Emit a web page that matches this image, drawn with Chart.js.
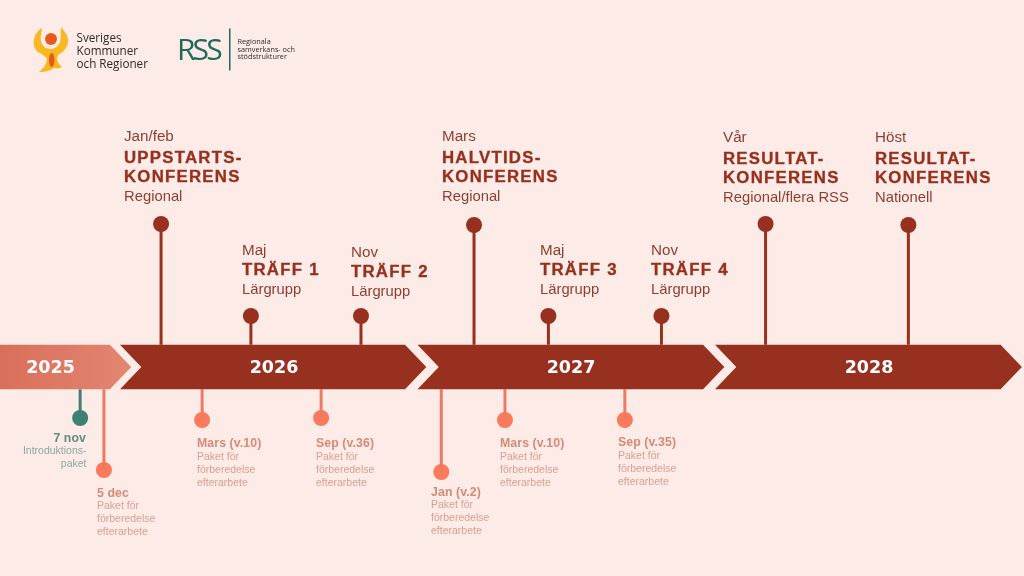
<!DOCTYPE html>
<html><head><meta charset="utf-8">
<script src="https://cdn.jsdelivr.net/npm/chart.js@4"></script>
<style>html,body{margin:0;padding:0;background:#fdebe7;overflow:hidden}#w{width:1024px;height:576px;position:relative}</style>
</head><body><div id="w"><canvas id="c" width="1024" height="576"></canvas></div>
<script>
// Timeline data: positions are decimal years; levels are heights above/below the band centre
const yearLabels = ['2025','2026','2027','2028'];
const yearStarts = [2025.55,2026,2027,2028];
const yearEnds   = [2025.966,2026.958,2027.96,2028.96];

const upperDates = ['Jan/feb','Maj','Nov','Mars','Maj','Nov','Vår','Höst'];
const upperTitles = [['UPPSTARTS-','KONFERENS'],['TRÄFF 1'],['TRÄFF 2'],['HALVTIDS-','KONFERENS'],['TRÄFF 3'],['TRÄFF 4'],['RESULTAT-','KONFERENS'],['RESULTAT-','KONFERENS']];
const upperSubs = ['Regional','Lärgrupp','Lärgrupp','Regional','Lärgrupp','Lärgrupp','Regional/flera RSS','Nationell'];
const upperTimes = [2026.138,2026.44,2026.81,2027.19,2027.44,2027.82,2028.17,2028.65];
const upperLevels = [143,51,51,142,51,51,143,142];

const coralDates = ['5 dec','Mars (v.10)','Sep (v.36)','Jan (v.2)','Mars (v.10)','Sep (v.35)'];
const coralTimes = [2025.946,2026.276,2026.676,2027.08,2027.294,2027.697];
const coralLevels = [-103,-53,-51,-105,-53,-53];
const coralText = ['Paket för','förberedelse','efterarbete'];

const greenDate = '7 nov';
const greenTimes = [2025.866];
const greenLevels = [-51];
const greenText = ['Introduktions-','paket'];

// Layout (pixels), kept apart from the data
const LAYOUT = {
  bandHalf:22.3, arrow:0.0715,
  upperX:[124,242,351,442,540,651,723,875],
  upperY:[141,255,257,141,255,255,141.5,141.5],
  coralX:[97,197,316,431,500,618], coralY:[496.5,447,447,495.5,447,446],
  greenX:87, greenY:441.5, yearX:[50.5,274,571,869], yearY:373
};
const C = {bg:'#fdebe7',dark:'#97301f',darkTxt:'#8e3e30',coral:'#fb7a5c',coralStem:'#ec7b62',coralHead:'#d58a7a',coralTxt:'#d99f92',green:'#3e8172',greenHead:'#5f8d80',greenTxt:'#8aa9a0'};

const edge = LAYOUT.bandHalf;
function stems(times, levels, sign){
  const out=[]; times.forEach((t,i)=>{out.push({x:t,y:sign*edge},{x:t,y:levels[i]},{x:t,y:NaN});}); return out;
}
function dots(times, levels){return times.map((t,i)=>({x:t,y:levels[i]}));}
function chevron(i){
  const s=yearStarts[i],e=yearEnds[i],a=LAYOUT.arrow,h=edge;
  const pts=[{x:s,y:h},{x:e,y:h},{x:e+a,y:0},{x:e,y:-h},{x:s,y:-h}];
  if(i>0) pts.push({x:s+a,y:0});
  pts.push({x:s,y:h});
  return pts;
}
function bandSet(i){
  return {type:'scatter',data:chevron(i),showLine:true,tension:0,pointRadius:0,borderWidth:0,borderColor:'transparent',
    fill:'shape',
    backgroundColor:i===0?(ctx)=>{
      const a=ctx.chart.chartArea; if(!a) return '#dd7865';
      const g=ctx.chart.ctx.createLinearGradient(a.left,0,ctx.chart.scales.x.getPixelForValue(yearEnds[0]+LAYOUT.arrow),0);
      g.addColorStop(0,'#d96f5a');g.addColorStop(1,'#e28672');return g;
    }:C.dark};
}
function stemSet(data,color,w){return {type:'scatter',data,showLine:true,spanGaps:false,pointRadius:0,borderColor:color,borderWidth:w,fill:false};}
function dotSet(data,color,r){return {type:'scatter',data,showLine:false,pointRadius:r,pointBackgroundColor:color,pointBorderWidth:0,pointHoverRadius:r};}

const textPlugin={id:'txt',afterDatasetsDraw(chart){
  const g=chart.ctx; g.save(); g.textBaseline='alphabetic';
  function t(s,x,y,font,col,ls,al,sw){g.font=font;g.fillStyle=col;g.letterSpacing=ls||'0px';g.textAlign=al||'left';g.fillText(s,x,y);
    if(sw){g.strokeStyle=col;g.lineWidth=sw;g.lineJoin='round';g.strokeText(s,x,y);}}
  const sans='"Liberation Sans",Arial,sans-serif';
  // years
  yearLabels.forEach((s,i)=>t(s,LAYOUT.yearX[i],LAYOUT.yearY,'bold 17.5px "DejaVu Sans"','#fff','0px','center'));
  // upper labels
  upperDates.forEach((d,i)=>{
    const x=LAYOUT.upperX[i]; let y=LAYOUT.upperY[i];
    t(d,x,y,'15.2px '+sans,C.darkTxt);
    y+=upperTitles[i].length>1?22:20;
    upperTitles[i].forEach((s,k)=>{t(s,x,y,'bold 16.8px '+sans,C.dark,'1.25px','left',0.35);y+=19;});
    t(upperSubs[i],x,y,'14.8px '+sans,C.darkTxt);
  });
  // coral labels
  coralDates.forEach((d,i)=>{
    const x=LAYOUT.coralX[i],y=LAYOUT.coralY[i];
    t(d,x,y,'bold 12.3px '+sans,C.coralHead,'0.1px');
    coralText.forEach((s,k)=>t(s,x,y+12.8+13*k,'10.5px '+sans,C.coralTxt,'0px'));
  });
  // green labels
  t(greenDate,LAYOUT.greenX-1,LAYOUT.greenY,'bold 12.3px '+sans,C.greenHead,'0.1px','right');
  greenText.forEach((s,k)=>t(s,LAYOUT.greenX-0.5,LAYOUT.greenY+12.8+13*k,'10.5px '+sans,C.greenTxt,'0px','right'));

  // SKR logo
  g.letterSpacing='0px';
  g.fillStyle='#f8b81f';
  g.beginPath();g.moveTo(42,28);g.bezierCurveTo(33,33,31,46,38,52);g.bezierCurveTo(43,55,47,57,47,60);
  g.bezierCurveTo(46,65,43,69,39,72);g.bezierCurveTo(47,72,51,70,54,68);g.bezierCurveTo(58,69,60,68,62,67);
  g.bezierCurveTo(57,63,56,58,58,55);g.bezierCurveTo(64,52,69,46,68,39);g.bezierCurveTo(67,33,63,31,62,27);
  g.bezierCurveTo(59,31,62,36,60,42);g.bezierCurveTo(58,47,54,49,51,49);g.bezierCurveTo(46,49,42,46,41,41);g.bezierCurveTo(40,36,42,32,42,28);g.closePath();g.fill();
  g.fillStyle='#e8591f';g.beginPath();g.arc(51,39,6,0,Math.PI*2);g.fill();
  g.beginPath();g.ellipse(51.7,60,2.8,7,0,0,Math.PI*2);g.fill();
  const lf='"Open Sans"';
  ['Sveriges','Kommuner','och Regioner'].forEach((s,k)=>t(s,76.5,42.3+k*12.7,'11.7px '+lf,'#2e2a28','0px'));
  // RSS logo
  t('RSS',177,60,'30px '+lf,'#1f6a5c','-2.9px');
  g.fillStyle='#1f6a5c';g.fillRect(229,28.5,1.5,42);
  ['Regionala','samverkans- och','stödstrukturer'].forEach((s,k)=>t(s,237.5,44+k*7.65,'7.3px '+lf,'#2e2a28','0px'));
  g.restore();
}};

const xMin=2025.5966,xMax=2029.0387;
new Chart(document.getElementById('c'),{
  type:'scatter',
  data:{datasets:[
    bandSet(0),bandSet(1),bandSet(2),bandSet(3),
    stemSet(stems(upperTimes,upperLevels,1),C.dark,3),
    dotSet(dots(upperTimes,upperLevels),C.dark,8),
    stemSet(stems(coralTimes,coralLevels,-1),C.coralStem,3),
    dotSet(dots(coralTimes,coralLevels),C.coral,8),
    stemSet(stems(greenTimes,greenLevels,-1),C.green,3),
    dotSet(dots(greenTimes,greenLevels),C.green,8)
  ]},
  options:{responsive:false,animation:false,devicePixelRatio:1,
    layout:{padding:0,autoPadding:false},
    plugins:{legend:{display:false},tooltip:{enabled:false},filler:{propagate:false}},
    scales:{
      x:{type:'linear',display:false,min:xMin,max:xMax},
      y:{type:'linear',display:false,min:-209,max:367}
    }
  },
  plugins:[textPlugin]
});
</script></body></html>
